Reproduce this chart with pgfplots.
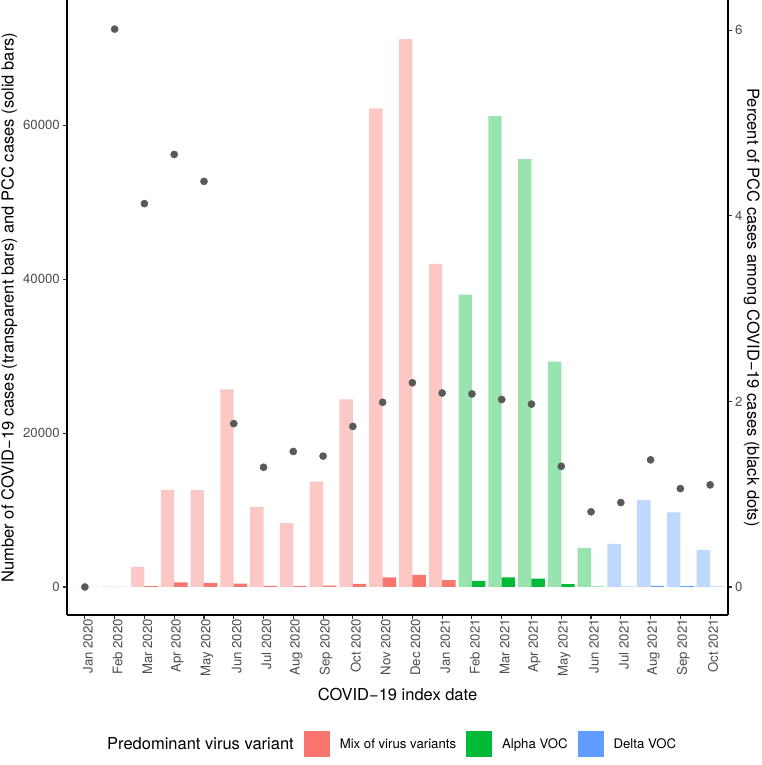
\documentclass[border=0pt]{standalone}
\usepackage{fontspec}
\setmainfont{TeX Gyre Heros}
\usepackage{pgfplots}
\pgfplotsset{compat=1.18}
\usepackage{pgfplotstable}

\definecolor{mixc}{HTML}{F8766D}
\definecolor{alphac}{HTML}{00BA38}
\definecolor{deltac}{HTML}{619CFF}
\definecolor{tickgray}{HTML}{4D4D4D}
\definecolor{tickline}{HTML}{333333}
\definecolor{dotgray}{HTML}{595959}

\pgfplotstableread{
x cases pcc
0 0 0
1 50 3
2 2600 107
3 12600 587
4 12600 551
5 25700 452
6 10400 134
7 8300 121
8 13700 193
9 24400 422
10 62200 1238
11 71200 1566
12 42000 878
}\mixtab

\pgfplotstableread{
x cases pcc
13 38000 790
14 61200 1236
15 55600 1095
16 29300 381
17 5100 41
}\alphatab

\pgfplotstableread{
x cases pcc
18 5600 51
19 11300 155
20 9700 103
21 4800 53
}\deltatab

\pgfplotstableread{
x pct
0 0
1 6.01
2 4.13
3 4.66
4 4.37
5 1.76
6 1.29
7 1.46
8 1.41
9 1.73
10 1.99
11 2.20
12 2.09
13 2.08
14 2.02
15 1.97
16 1.30
17 0.81
18 0.91
19 1.37
20 1.06
21 1.10
}\pcttab

\newcommand{\tickfont}{\fontsize{13.2}{15}\selectfont}
\newcommand{\titlefont}{\fontsize{16.5}{19}\selectfont}

\begin{document}
\begin{tikzpicture}
\begin{axis}[
  name=main,
  scale only axis, width=661pt, height=615pt,
  xmin=-0.6, xmax=21.6, ymin=-3640, ymax=76300,
  axis x line*=bottom, axis y line*=left,
  axis line style={-, line width=1.1pt, black},
  x axis line style={-}, y axis line style={-},
  xtick pos=lower, ytick pos=left,
  xtick={0,...,21},
  xticklabels={Jan 2020, Feb 2020, Mar 2020, Apr 2020, May 2020, Jun 2020, Jul 2020, Aug 2020, Sep 2020, Oct 2020, Nov 2020, Dec 2020, Jan 2021, Feb 2021, Mar 2021, Apr 2021, May 2021, Jun 2021, Jul 2021, Aug 2021, Sep 2021, Oct 2021},
  ytick={0,20000,40000,60000},
  scaled y ticks=false,
  tick align=outside, major tick length=4pt,
  tick style={line width=1.1pt, color=tickline},
  x tick label style={rotate=90, anchor=east, font=\tickfont, color=tickgray, inner sep=0pt, yshift=-3pt},
  y tick label style={font=\tickfont, color=tickgray, inner sep=0pt, xshift=-3pt},
  /pgf/number format/1000 sep={},
  /pgf/number format/assume math mode=true,
  xlabel={COVID−19 index date},
  ylabel={Number of COVID−19 cases (transparent bars) and PCC cases (solid bars)},
  every axis x label/.style={at={(axis description cs:0.5,-0.130)}, anchor=center, font=\titlefont, inner sep=0pt},
  every axis y label/.style={at={(axis description cs:-0.0875,0.5)}, rotate=90, anchor=center, font=\titlefont, inner sep=0pt},
  legend style={at={(axis description cs:0.0454,-0.2098)}, anchor=west, draw=none, fill=none,
    font=\tickfont, legend columns=-1, inner sep=0pt,
    /tikz/every odd column/.append style={column sep=10pt},
    /tikz/every even column/.append style={column sep=10pt},
    nodes={inner sep=0pt}},
  legend cell align=left,
]
\addlegendimage{empty legend}
\addlegendentry{\titlefont Predominant virus variant}

\addplot[ybar, bar width=0.45, bar shift=-0.225, fill=mixc!40!white, draw=none, forget plot] table[x=x, y=cases]{\mixtab};
\addplot[ybar, bar width=0.45, bar shift=-0.225, fill=alphac!40!white, draw=none, forget plot] table[x=x, y=cases]{\alphatab};
\addplot[ybar, bar width=0.45, bar shift=-0.225, fill=deltac!40!white, draw=none, forget plot] table[x=x, y=cases]{\deltatab};

\addplot[ybar, bar width=0.45, bar shift=0.225, fill=mixc, draw=none,
  legend image code/.code={\fill[mixc] (0pt,-13pt) rectangle (26pt,13pt);}] table[x=x, y=pcc]{\mixtab};
\addlegendentry{Mix of virus variants}
\addplot[ybar, bar width=0.45, bar shift=0.225, fill=alphac, draw=none,
  legend image code/.code={\fill[alphac] (0pt,-13pt) rectangle (26pt,13pt);}] table[x=x, y=pcc]{\alphatab};
\addlegendentry{Alpha VOC}
\addplot[ybar, bar width=0.45, bar shift=0.225, fill=deltac, draw=none,
  legend image code/.code={\fill[deltac] (0pt,-13pt) rectangle (26pt,13pt);}] table[x=x, y=pcc]{\deltatab};
\addlegendentry{Delta VOC}
\end{axis}

\begin{axis}[
  at={(main.south west)}, anchor=south west,
  scale only axis, width=661pt, height=615pt,
  xmin=-0.6, xmax=21.6, ymin=-0.3017, ymax=6.324,
  axis x line=none, axis y line*=right,
  axis line style={-, line width=1.1pt, black},
  y axis line style={-},
  ytick pos=right, yticklabel pos=right,
  ytick={0,2,4,6},
  scaled y ticks=false,
  tick align=outside, major tick length=4pt,
  tick style={line width=1.1pt, color=tickline},
  y tick label style={font=\tickfont, color=tickgray, inner sep=0pt, xshift=3pt},
  /pgf/number format/assume math mode=true,
  ylabel={Percent of PCC cases among COVID−19 cases (black dots)},
  every axis y label/.style={at={(axis description cs:1.036,0.5)}, rotate=-90, anchor=center, font=\titlefont, inner sep=0pt},
]
\addplot[only marks, mark=*, mark size=3.6pt, color=dotgray, mark options={draw=none, fill=dotgray}] table[x=x, y=pct]{\pcttab};
\end{axis}

\pgfresetboundingbox
\path (main.south west) ++(-67pt,-150pt) rectangle ++(762pt,765pt);
\end{tikzpicture}
\end{document}
